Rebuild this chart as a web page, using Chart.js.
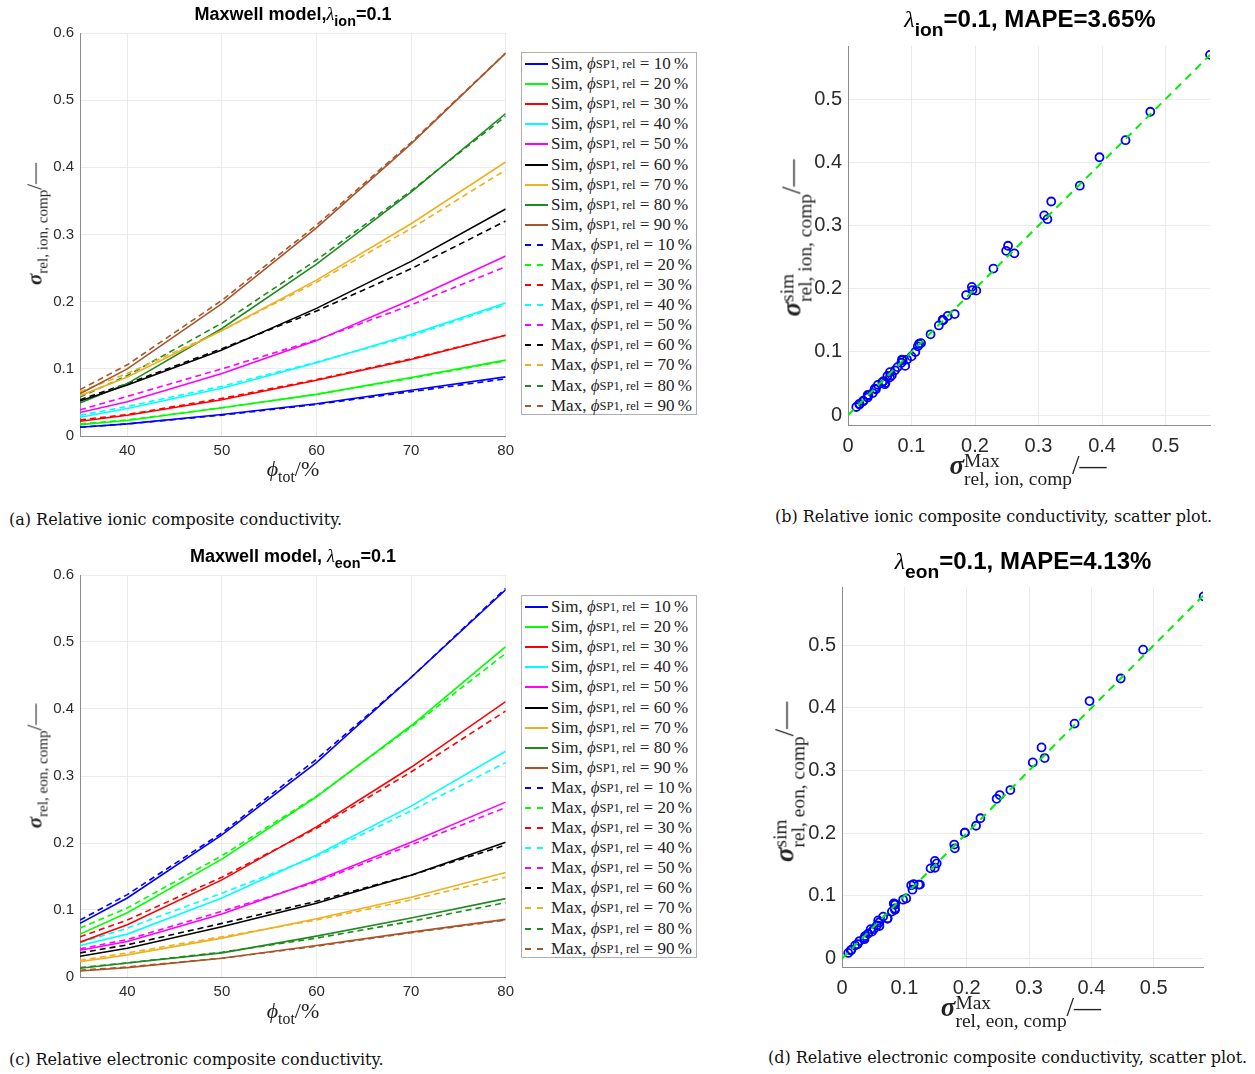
<!DOCTYPE html>
<html lang="en">
<head>
<meta charset="UTF-8" />
<title>Maxwell model vs simulation</title>
<script src="https://cdn.jsdelivr.net/npm/chart.js"></script>
<style>
    body {
        margin: 0;
        width: 1255px;
        height: 1074px;
        background: #fff;
        position: relative;
        overflow: hidden;
        font-family: "Liberation Sans", Arial, sans-serif;
    }
    canvas { position: absolute; }
    .title {
        position: absolute;
        transform: translate(-50%, -50%);
        font-weight: bold;
        white-space: nowrap;
        color: #000;
    }
    .title i { font-family: "Liberation Serif", serif; font-weight: normal; }
    .title sub { font-size: 0.8em; vertical-align: -0.45em; line-height: 0; }
    .math {
        position: absolute;
        white-space: nowrap;
        font-family: "Liberation Serif", serif;
        color: #222;
        line-height: 1;
    }
    .math .sig { font-weight: bold; font-style: italic; }
    .math sub { font-size: 0.72em; vertical-align: -0.4em; line-height: 0; }
    .ss { display: inline-block; vertical-align: -0.55em; line-height: 0.9; font-size: 0.72em; text-align: left; }
    .ss span { display: block; }
    .legend {
        position: absolute;
        border: 1px solid #b0b0b0;
        background: #fff;
        box-sizing: border-box;
        padding-top: 1px;
    }
    .legend .row {
        height: 20.1px;
        display: flex;
        align-items: center;
        font-family: "Liberation Serif", serif;
        font-size: 17px;
        color: #222;
        white-space: nowrap;
    }
    .legend .sample { width: 23px; height: 2px; margin: 0 3px 0 3px; }
    .legend sub { font-size: 0.74em; vertical-align: -0.35em; line-height: 0; }
    .caption {
        position: absolute;
        font-family: "DejaVu Serif", serif;
        font-size: 16px;
        color: #111;
        white-space: nowrap;
    }
</style>
</head>
<body>

<!-- (a) -->
<canvas id="chartA" style="left:0px;top:0px;" width="520" height="470"></canvas>
<div class="title" style="left:293px;top:14px;font-size:18px;">Maxwell model,<i>λ</i><sub>ion</sub>=0.1</div>
<div class="math" style="left:35px;top:224px;font-size:21px;transform:translate(-50%,-50%) rotate(-90deg);"><span class="sig">σ</span><sub>rel, ion, comp</sub>/—</div>
<div class="math" style="left:293px;top:469px;font-size:22px;transform:translate(-50%,-50%);"><i>ϕ</i><sub>tot</sub>/%</div>
<div class="legend" id="legA" style="left:521px;top:52px;width:176px;height:363px;"></div>
<div class="caption" style="left:9px;top:510px;">(a) Relative ionic composite conductivity.</div>

<!-- (b) -->
<canvas id="chartB" style="left:770px;top:0px;" width="485" height="500"></canvas>
<div class="title" style="left:1030px;top:19px;font-size:24px;"><i>λ</i><sub>ion</sub>=0.1, MAPE=3.65%</div>
<div class="math" style="left:796px;top:238px;font-size:27px;transform:translate(-50%,-50%) rotate(-90deg);"><span class="sig">σ</span><span class="ss"><span>sim</span><span>rel, ion, comp</span></span>/—</div>
<div class="math" style="left:1028px;top:470px;font-size:27px;transform:translate(-50%,-50%);"><span class="sig">σ</span><span class="ss"><span>Max</span><span>rel, ion, comp</span></span>/—</div>
<div class="caption" style="left:775px;top:507px;">(b) Relative ionic composite conductivity, scatter plot.</div>

<!-- (c) -->
<canvas id="chartC" style="left:0px;top:540px;" width="520" height="470"></canvas>
<div class="title" style="left:293px;top:556px;font-size:18px;">Maxwell model, <i>λ</i><sub>eon</sub>=0.1</div>
<div class="math" style="left:35px;top:766px;font-size:21px;transform:translate(-50%,-50%) rotate(-90deg);"><span class="sig">σ</span><sub>rel, eon, comp</sub>/—</div>
<div class="math" style="left:293px;top:1011px;font-size:22px;transform:translate(-50%,-50%);"><i>ϕ</i><sub>tot</sub>/%</div>
<div class="legend" id="legC" style="left:521px;top:595px;width:176px;height:363px;"></div>
<div class="caption" style="left:9px;top:1050px;">(c) Relative electronic composite conductivity.</div>

<!-- (d) -->
<canvas id="chartD" style="left:770px;top:540px;" width="485" height="500"></canvas>
<div class="title" style="left:1023px;top:561px;font-size:24px;"><i>λ</i><sub>eon</sub>=0.1, MAPE=4.13%</div>
<div class="math" style="left:789px;top:782px;font-size:27px;transform:translate(-50%,-50%) rotate(-90deg);"><span class="sig">σ</span><span class="ss"><span>sim</span><span>rel, eon, comp</span></span>/—</div>
<div class="math" style="left:1021px;top:1012px;font-size:27px;transform:translate(-50%,-50%);"><span class="sig">σ</span><span class="ss"><span>Max</span><span>rel, eon, comp</span></span>/—</div>
<div class="caption" style="left:768px;top:1048px;">(d) Relative electronic composite conductivity, scatter plot.</div>

<script>
    // data
    const phiTot = [35, 40, 50, 60, 70, 80];             // total volume fraction, %
    const phiSP1 = [10, 20, 30, 40, 50, 60, 70, 80, 90]; // relative SP1 fraction, %

    // ionic: simulation / Maxwell, one row per phiSP1
    const ionSim = [
        [0.013, 0.018, 0.032, 0.048, 0.068, 0.088],
        [0.017, 0.023, 0.042, 0.062, 0.087, 0.113],
        [0.022, 0.031, 0.054, 0.083, 0.114, 0.150],
        [0.028, 0.041, 0.071, 0.109, 0.151, 0.198],
        [0.035, 0.051, 0.093, 0.142, 0.203, 0.268],
        [0.052, 0.076, 0.128, 0.190, 0.260, 0.338],
        [0.060, 0.088, 0.157, 0.232, 0.316, 0.408],
        [0.049, 0.078, 0.160, 0.256, 0.363, 0.480],
        [0.063, 0.100, 0.197, 0.310, 0.435, 0.570]
    ];
    const ionMax = [
        [0.013, 0.018, 0.031, 0.047, 0.066, 0.085],
        [0.018, 0.024, 0.042, 0.062, 0.086, 0.112],
        [0.024, 0.032, 0.056, 0.084, 0.115, 0.150],
        [0.031, 0.044, 0.074, 0.110, 0.149, 0.196],
        [0.039, 0.059, 0.100, 0.143, 0.195, 0.252],
        [0.054, 0.078, 0.130, 0.186, 0.249, 0.320],
        [0.066, 0.093, 0.157, 0.229, 0.309, 0.396],
        [0.058, 0.090, 0.168, 0.262, 0.365, 0.476],
        [0.069, 0.106, 0.202, 0.314, 0.437, 0.570]
    ];

    // electronic: simulation / Maxwell
    const eonSim = [
        [0.080, 0.118, 0.212, 0.320, 0.447, 0.578],
        [0.064, 0.096, 0.176, 0.269, 0.375, 0.493],
        [0.052, 0.078, 0.145, 0.224, 0.313, 0.411],
        [0.047, 0.064, 0.118, 0.182, 0.255, 0.337],
        [0.040, 0.053, 0.094, 0.144, 0.201, 0.261],
        [0.031, 0.043, 0.075, 0.110, 0.152, 0.201],
        [0.023, 0.033, 0.058, 0.087, 0.119, 0.156],
        [0.013, 0.021, 0.036, 0.061, 0.088, 0.117],
        [0.009, 0.014, 0.028, 0.047, 0.067, 0.086]
    ];
    const eonMax = [
        [0.085, 0.123, 0.215, 0.325, 0.447, 0.580],
        [0.073, 0.103, 0.181, 0.270, 0.373, 0.483],
        [0.060, 0.085, 0.149, 0.222, 0.306, 0.397],
        [0.051, 0.073, 0.125, 0.180, 0.248, 0.320],
        [0.042, 0.056, 0.098, 0.142, 0.197, 0.253],
        [0.036, 0.048, 0.080, 0.113, 0.152, 0.197],
        [0.025, 0.036, 0.060, 0.085, 0.115, 0.149],
        [0.014, 0.021, 0.037, 0.058, 0.083, 0.111],
        [0.010, 0.015, 0.028, 0.046, 0.066, 0.085]
    ];

    const lineXTicks = [40, 50, 60, 70, 80];
    const lineYTicks = [0, 0.1, 0.2, 0.3, 0.4, 0.5, 0.6];
    const scatterTicks = [0, 0.1, 0.2, 0.3, 0.4, 0.5];

    const seriesColors = ['#0000ff', '#00ff00', '#ff0000', '#00ffff', '#ff00ff',
                          '#000000', '#edb120', '#1f8a1f', '#a9552a'];

    const gridColor = '#ebebeb';
    const axisColor = '#8c8c8c';
    const tickColor = '#2b2b2b';

    function fixTicks(list) {
        return scale => { scale.ticks = list.map(v => ({ value: v })); };
    }

    // line chart: sim solid, Maxwell dashed
    function makeLineChart(id, sim, maxw, box) {
        const datasets = [];
        sim.forEach((vals, i) => datasets.push({
            data: phiTot.map((x, j) => ({ x: x, y: vals[j] })),
            borderColor: seriesColors[i], borderWidth: 1.6, pointRadius: 0, fill: false
        }));
        maxw.forEach((vals, i) => datasets.push({
            data: phiTot.map((x, j) => ({ x: x, y: vals[j] })),
            borderColor: seriesColors[i], borderWidth: 1.6, borderDash: [6, 4], pointRadius: 0, fill: false
        }));

        new Chart(document.getElementById(id), {
            type: 'line',
            data: { datasets: datasets },
            options: {
                responsive: false,
                animation: false,
                layout: { padding: { left: 0, right: box.right, top: box.top, bottom: 0 } },
                plugins: { legend: { display: false }, tooltip: { enabled: false } },
                scales: {
                    x: {
                        type: 'linear', min: 35, max: 80,
                        afterBuildTicks: fixTicks(lineXTicks),
                        afterFit: s => { s.height = box.xh; },
                        grid: { color: gridColor, drawTicks: false },
                        border: { color: axisColor },
                        ticks: { padding: 6, color: tickColor, font: { family: 'Liberation Sans', size: 15 } }
                    },
                    y: {
                        type: 'linear', min: 0, max: 0.6,
                        afterBuildTicks: fixTicks(lineYTicks),
                        afterFit: s => { s.width = box.yw; },
                        grid: { color: gridColor, drawTicks: false },
                        border: { color: axisColor },
                        ticks: { padding: 6, color: tickColor, font: { family: 'Liberation Sans', size: 15 } }
                    }
                }
            }
        });
    }

    // scatter: (Maxwell, sim) pairs + identity line
    function makeScatter(id, sim, maxw, box) {
        const pts = [];
        sim.forEach((vals, i) => vals.forEach((v, j) => pts.push({ x: maxw[i][j], y: v })));
        const top = Math.max(...pts.map(p => p.x));

        new Chart(document.getElementById(id), {
            type: 'scatter',
            data: {
                datasets: [
                    {
                        type: 'line', order: 0,
                        data: [{ x: 0, y: 0 }, { x: top, y: top }],
                        borderColor: '#00ee00', borderWidth: 2, borderDash: [8, 6], pointRadius: 0
                    },
                    {
                        order: 1, data: pts,
                        pointRadius: 4, pointBorderWidth: 1.8,
                        borderColor: '#0000ff', backgroundColor: 'rgba(0,0,0,0)'
                    }
                ]
            },
            options: {
                responsive: false,
                animation: false,
                layout: { padding: { left: 0, right: box.right, top: box.top, bottom: 0 } },
                plugins: { legend: { display: false }, tooltip: { enabled: false } },
                scales: {
                    x: {
                        type: 'linear', min: 0, max: box.xmax,
                        afterBuildTicks: fixTicks(scatterTicks),
                        afterFit: s => { s.height = box.xh; },
                        grid: { color: gridColor, drawTicks: false },
                        border: { color: axisColor },
                        ticks: { padding: 9, color: tickColor, font: { family: 'Liberation Sans', size: 20 } }
                    },
                    y: {
                        type: 'linear', min: box.ymin, max: box.ymax,
                        afterBuildTicks: fixTicks(scatterTicks),
                        afterFit: s => { s.width = box.yw; },
                        grid: { color: gridColor, drawTicks: false },
                        border: { color: axisColor },
                        ticks: { padding: 6, color: tickColor, font: { family: 'Liberation Sans', size: 20 } }
                    }
                }
            }
        });
    }

    function buildLegend(id) {
        const el = document.getElementById(id);
        let html = '';
        ['Sim', 'Max'].forEach(kind => {
            phiSP1.forEach((p, i) => {
                const c = seriesColors[i];
                const bg = kind === 'Sim'
                    ? c
                    : 'repeating-linear-gradient(90deg,' + c + ' 0 6px, transparent 6px 12px)';
                html += '<div class="row"><span class="sample" style="background:' + bg + '"></span>' +
                        kind + ',&nbsp;<i>ϕ</i><sub>SP1, rel</sub>&nbsp;=&nbsp;' + p + '&thinsp;%</div>';
            });
        });
        el.innerHTML = html;
    }

    makeLineChart('chartA', ionSim, ionMax, { right: 13, top: 33, xh: 34, yw: 80 });
    makeLineChart('chartC', eonSim, eonMax, { right: 13, top: 35, xh: 33, yw: 80 });
    makeScatter('chartB', ionSim, ionMax, { right: 45, top: 46, xh: 75, yw: 78, xmax: 0.57, ymin: -0.0155, ymax: 0.584 });
    makeScatter('chartD', eonSim, eonMax, { right: 52, top: 47, xh: 73, yw: 72, xmax: 0.579, ymin: -0.0134, ymax: 0.593 });
    buildLegend('legA');
    buildLegend('legC');
</script>
</body>
</html>
